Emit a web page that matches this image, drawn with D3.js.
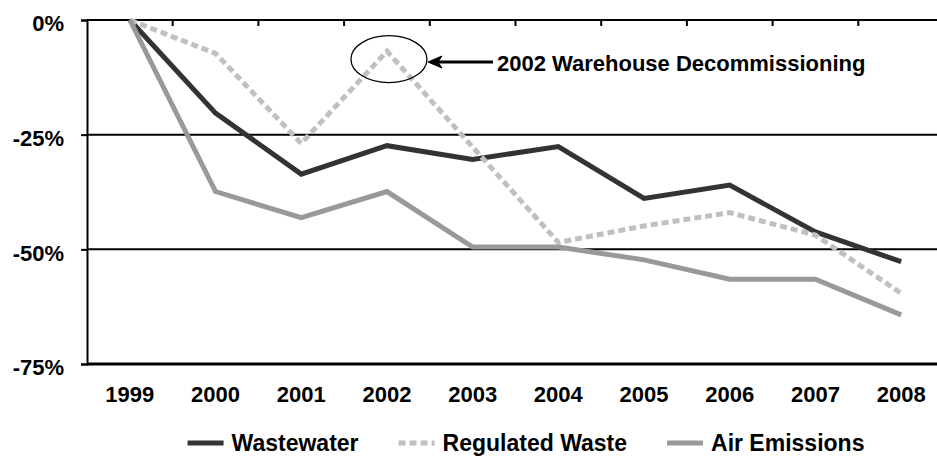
<!DOCTYPE html>
<html>
<head>
<meta charset="utf-8">
<script src="https://cdn.jsdelivr.net/npm/d3@7"></script>
<style>
  body { margin: 0; background: #fff; }
  svg { display: block; font-family: "Liberation Sans", Arial, sans-serif; font-weight: bold; }
</style>
</head>
<body>
<svg id="chart" width="937" height="458"></svg>
<script>
// Data (percent change vs 1999)
const years = ["1999", "2000", "2001", "2002", "2003", "2004", "2005", "2006", "2007", "2008"];
const wastewater = [0, -20.3, -33.6, -27.4, -30.4, -27.6, -38.9, -36.0, -46.2, -52.7];
const regulatedWaste = [0, -7.3, -26.9, -6.8, -27.7, -48.5, -44.9, -42.0, -46.9, -59.6];
const airEmissions = [0, -37.4, -43.1, -37.4, -49.5, -49.5, -52.3, -56.5, -56.5, -64.3];
const yTicks = [0, -25, -50, -75];
const seriesNames = ["Wastewater", "Regulated Waste", "Air Emissions"];
const annotationText = "2002 Warehouse Decommissioning";

const plot = { left: 87, right: 944, top: 20, bottom: 364 };

const series = [
  { name: seriesNames[0], values: wastewater, color: "#333333", dash: null },
  { name: seriesNames[1], values: regulatedWaste, color: "#c0c0c0", dash: "7,4" },
  { name: seriesNames[2], values: airEmissions, color: "#999999", dash: null },
];

const svg = d3.select("#chart");

const x = d3.scaleBand().domain(years).range([plot.left, plot.right]);
const y = d3.scaleLinear().domain([-75, 0]).range([plot.bottom, plot.top]);
const cx = (yr) => x(yr) + x.bandwidth() / 2;

// Gridlines
svg
  .append("g")
  .selectAll("line")
  .data(yTicks)
  .enter()
  .append("line")
  .attr("x1", plot.left)
  .attr("x2", plot.right)
  .attr("y1", (d) => y(d))
  .attr("y2", (d) => y(d))
  .attr("stroke", "#000")
  .attr("stroke-width", (d) => (d === -75 ? 3 : 2));

// Y axis
const yAxis = svg
  .append("g")
  .attr("transform", `translate(${plot.left},0)`)
  .call(
    d3
      .axisLeft(y)
      .tickValues(yTicks)
      .tickSize(6)
      .tickPadding(17)
      .tickFormat((d) => `${d}%`)
  );
yAxis.select(".domain").attr("stroke", "#000").attr("stroke-width", 2);
yAxis.selectAll(".tick line").attr("stroke", "#000").attr("stroke-width", 2);
yAxis
  .selectAll(".tick text")
  .attr("font-size", 22)
  .attr("font-family", "Liberation Sans, Arial, sans-serif")
  .attr("font-weight", "bold")
  .attr("fill", "#000")
  .attr("dy", "0.72em")
  .attr("y", -5);

// Category tick marks along the 0% line (pointing down)
svg
  .append("g")
  .selectAll("line")
  .data(years.slice(1))
  .enter()
  .append("line")
  .attr("x1", (d) => x(d))
  .attr("x2", (d) => x(d))
  .attr("y1", y(0))
  .attr("y2", y(0) + 6)
  .attr("stroke", "#000")
  .attr("stroke-width", 2);

// Category labels at the bottom
svg
  .append("g")
  .selectAll("text")
  .data(years)
  .enter()
  .append("text")
  .attr("x", (d) => cx(d))
  .attr("y", 402)
  .attr("text-anchor", "middle")
  .attr("font-size", 22)
  .attr("fill", "#000")
  .text((d) => d);

// Lines
const line = d3
  .line()
  .x((d, i) => cx(years[i]))
  .y((d) => y(d));

svg
  .append("g")
  .selectAll("path")
  .data(series)
  .enter()
  .append("path")
  .attr("d", (s) => line(s.values))
  .attr("fill", "none")
  .attr("stroke", (s) => s.color)
  .attr("stroke-width", 5)
  .attr("stroke-linejoin", "miter")
  .attr("stroke-dasharray", (s) => s.dash);

// Annotation: ellipse around the 2002 spike, arrow and text
const peakX = cx("2002");
const peakY = y(regulatedWaste[3]);
svg
  .append("ellipse")
  .attr("cx", peakX + 2)
  .attr("cy", peakY + 8)
  .attr("rx", 38)
  .attr("ry", 23.5)
  .attr("fill", "none")
  .attr("stroke", "#000")
  .attr("stroke-width", 1.3);

const arrowY = 62;
const arrowTip = peakX + 41;
svg
  .append("line")
  .attr("x1", arrowTip + 8)
  .attr("x2", 493)
  .attr("y1", arrowY)
  .attr("y2", arrowY)
  .attr("stroke", "#000")
  .attr("stroke-width", 3);
svg
  .append("path")
  .attr(
    "d",
    `M${arrowTip},${arrowY} L${arrowTip + 14},${arrowY - 6} L${arrowTip + 10},${arrowY} L${arrowTip + 14},${arrowY + 6} Z`
  )
  .attr("fill", "#000")
  .attr("stroke", "#000")
  .attr("stroke-width", 1);

svg
  .append("text")
  .attr("x", 497)
  .attr("y", 70.5)
  .attr("font-size", 22)
  .attr("fill", "#000")
  .text(annotationText);

// Legend
const legendY = 443;
const sampleLen = 36;
const legendCenter = 526;
const legend = svg.append("g");
const items = legend
  .selectAll("g")
  .data(series)
  .enter()
  .append("g");
items
  .append("text")
  .attr("y", legendY + 8)
  .attr("font-size", 23)
  .attr("fill", "#000")
  .text((s) => s.name);

let offset = 0;
const positions = [];
items.each(function (s) {
  const w = d3.select(this).select("text").node().getComputedTextLength();
  positions.push(offset);
  offset += sampleLen + 8 + w + 40;
});
const total = offset - 40;
const startX = legendCenter - total / 2;
items.each(function (s, i) {
  const g = d3.select(this);
  const x0 = startX + positions[i];
  g.select("text").attr("x", x0 + sampleLen + 8);
  g.append("line")
    .attr("x1", x0)
    .attr("x2", x0 + sampleLen)
    .attr("y1", legendY)
    .attr("y2", legendY)
    .attr("stroke", s.color)
    .attr("stroke-width", 5)
    .attr("stroke-dasharray", s.dash ? "7,4" : null);
});
</script>
</body>
</html>
